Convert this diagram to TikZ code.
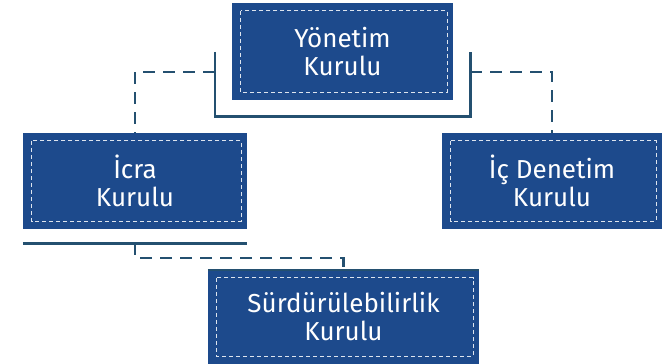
\documentclass[tikz,border=0pt]{standalone}
\usepackage{fontspec}
\setmainfont{Fira Sans}
\usetikzlibrary{calc}
\definecolor{denim}{RGB}{29,74,140}
\definecolor{conncol}{RGB}{36,80,112}
\begin{document}
\begin{tikzpicture}[x=1pt,y=-1pt,
  boxnode/.style={rectangle, fill=denim, inner sep=0pt, text=white,
    font=\fontsize{26}{28}\selectfont, align=center},
  innerdash/.style={draw=white!85!denim, line width=1pt, dash pattern=on 4pt off 3pt},
  solidconn/.style={draw=conncol, line width=2.6pt},
  dashconn/.style={draw=conncol, line width=2.4pt, dash pattern=on 12pt off 8pt}]
\useasboundingbox (0,0) rectangle (662,364);
\fill[white] (0,0) rectangle (662,364);
% boxes
\node[boxnode, minimum width=221pt, minimum height=97pt] (yk) at (342.5,51.5) {Yönetim\\Kurulu};
\node[boxnode, minimum width=224pt, minimum height=96pt] (ik) at (135,181) {İcra\\Kurulu};
\node[boxnode, minimum width=220pt, minimum height=96pt] (id) at (552,181) {İç Denetim\\Kurulu};
\node[boxnode, minimum width=271pt, minimum height=94pt] (sk) at (343.5,317) {Sürdürülebilirlik\\Kurulu};
% inner dashed frames
\foreach \n in {yk,ik,id,sk}{
  \draw[innerdash] ($(\n.north west)+(9,8)$) rectangle ($(\n.south east)+(-6,-8)$);
}
% top band of sk
\draw[solidconn] (sk.north west) -- (sk.north east);
% bracket under Yönetim Kurulu
\draw[solidconn] ($(yk.north west)+(-17,49)$) -- ($(yk.south west)+(-17,16)$) -- ($(yk.south east)+(17,16)$) -- ($(yk.north east)+(17,49)$);
\draw[dashconn] ($(yk.north west)+(-17,69)$) -| (ik.north);
\draw[dashconn] ($(yk.north east)+(17,69)$) -| (id.north);
% line under İcra Kurulu
\coordinate (ul) at ($(ik.south)+(0,14)$);
\draw[solidconn] ($(ik.south west)+(0,14)$) -- ($(ik.south east)+(0,14)$);
\draw[dashconn] (ul) -- ++(0,15) -| (sk.north);
\end{tikzpicture}
\end{document}
